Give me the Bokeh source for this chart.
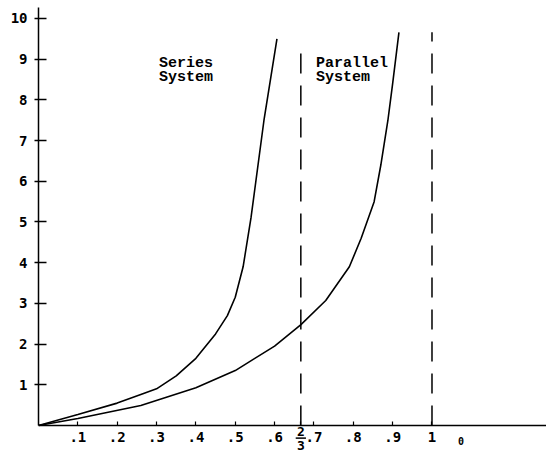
from bokeh.plotting import figure
from bokeh.models import Range1d, FixedTicker
from bokeh.embed import file_html
from bokeh.resources import INLINE
from bokeh.core.properties import value

# ---- data ----
series_x = [0, 0.1, 0.2, 0.26, 0.3, 0.35, 0.4, 0.45, 0.48, 0.5, 0.52, 0.54, 0.573, 0.606]
series_y = [0, 0.27, 0.55, 0.76, 0.9, 1.22, 1.65, 2.25, 2.7, 3.15, 3.9, 5.1, 7.5, 9.5]

parallel_x = [0, 0.1, 0.26, 0.4, 0.5, 0.6, 0.667, 0.73, 0.79, 0.82, 0.853, 0.87, 0.888, 0.9, 0.916]
parallel_y = [0, 0.17, 0.49, 0.93, 1.35, 1.95, 2.48, 3.07, 3.9, 4.6, 5.5, 6.4, 7.5, 8.4, 9.66]

asymptote_x = [2 / 3, 1.0]
asymptote_top = [9.3, 9.66]

x_ticks = [0.1, 0.2, 0.3, 0.4, 0.5, 0.6, 2 / 3, 0.7, 0.8, 0.9, 1.0]
x_tick_labels = [".1", ".2", ".3", ".4", ".5", ".6", "", ".7", ".8", ".9", "1"]
y_ticks = [1, 2, 3, 4, 5, 6, 7, 8, 9, 10]
y_tick_labels = ["1", "2", "3", "4", "5", "6", "7", "8", "9", "10"]

label_text = ["Series", "System", "Parallel", "System"]
label_x = [0.306, 0.306, 0.705, 0.705]
label_y = [8.89, 8.55, 8.89, 8.55]

frac_text = ["2", "3"]
frac_x = [2 / 3, 2 / 3]
frac_y = [-0.14, -0.48]
frac_bar_y = -0.31
stray_text = ["0"]
stray_x = [1.074]
stray_y = [-0.38]

TICK_FONT = "DejaVu Sans Mono"
TEXT_FONT = "Liberation Mono"
Y_TOP = 10.27

p = figure(width=546, height=455, output_backend="svg", toolbar_location=None,
           x_range=Range1d(0, 1.291), y_range=Range1d(-0.737, Y_TOP),
           min_border_left=38, min_border_right=0, min_border_top=7,
           min_border_bottom=0)
p.outline_line_color = None
p.grid.visible = False
p.background_fill_color = "white"
p.border_fill_color = "white"

# axes
p.xaxis.fixed_location = 0
p.xaxis.ticker = FixedTicker(ticks=x_ticks)
p.xaxis.major_label_overrides = {t: l for t, l in zip(x_ticks, x_tick_labels)}
p.xaxis.minor_tick_line_color = None
p.xaxis.major_tick_in = 4
p.xaxis.major_tick_out = 0
p.xaxis.major_label_standoff = 6
p.xaxis.major_label_text_font = TICK_FONT
p.xaxis.major_label_text_font_style = "bold"
p.xaxis.major_label_text_font_size = "14px"
p.xaxis.axis_line_width = 1.5
p.xaxis.major_tick_line_width = 1.2
p.xaxis.axis_line_color = "black"
p.xaxis.major_label_text_color = "black"

p.yaxis.bounds = (0, Y_TOP)
p.yaxis.ticker = FixedTicker(ticks=y_ticks)
p.yaxis.major_label_overrides = {t: l for t, l in zip(y_ticks, y_tick_labels)}
p.yaxis.minor_tick_line_color = None
p.yaxis.major_tick_in = 8
p.yaxis.major_tick_out = 4
p.yaxis.major_label_standoff = 7
p.yaxis.major_label_text_font = TICK_FONT
p.yaxis.major_label_text_font_style = "bold"
p.yaxis.major_label_text_font_size = "14px"
p.yaxis.axis_line_width = 1.5
p.yaxis.major_tick_line_width = 1.5
p.yaxis.axis_line_color = "black"
p.yaxis.major_label_text_color = "black"

# curves
p.line(series_x, series_y, line_color="black", line_width=1.6)
p.line(parallel_x, parallel_y, line_color="black", line_width=1.6)

# dashed asymptotes
p.segment(x0=asymptote_x, y0=[0, 0], x1=asymptote_x, y1=asymptote_top,
          line_color="black", line_width=1.5, line_dash="20 12")

# curve labels
p.text(x=label_x, y=label_y, text=label_text, text_font=value(TEXT_FONT),
       text_font_style="bold", text_font_size="15px",
       text_baseline="alphabetic", text_align="left", text_color="black")

# fraction 2/3 tick label
p.text(x=frac_x, y=frac_y, text=frac_text, text_font=value(TICK_FONT),
       text_font_style="bold", text_font_size="13px",
       text_baseline="middle", text_align="center", text_color="black")
p.segment(x0=[2 / 3 - 0.013], y0=[frac_bar_y], x1=[2 / 3 + 0.013], y1=[frac_bar_y],
          line_color="black", line_width=1.5)
# stray mark right of "1"
p.text(x=stray_x, y=stray_y, text=stray_text, text_font=value(TICK_FONT),
       text_font_style="bold", text_font_size="10px",
       text_baseline="middle", text_align="center", text_color="black")

open("out.html", "w").write(file_html(p, INLINE))
